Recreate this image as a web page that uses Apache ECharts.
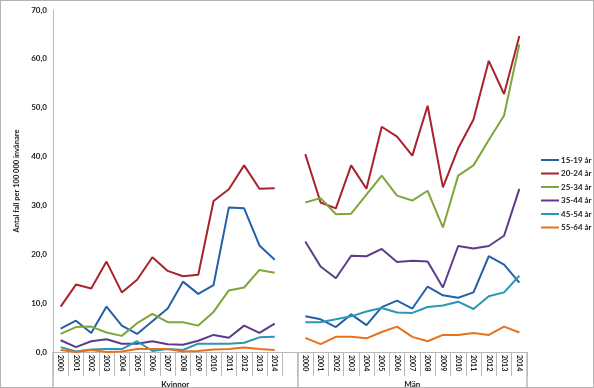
<!DOCTYPE html>
<html><head><meta charset="utf-8">
<script src="https://cdn.jsdelivr.net/npm/echarts@6/dist/echarts.min.js"></script>
<style>
html,body{margin:0;padding:0;background:#fff;}
#c{position:absolute;left:0;top:0;width:594px;height:388px;}
#frame{position:absolute;left:0;top:0;width:594px;height:388px;box-sizing:border-box;border:1px solid #b4b4b4;pointer-events:none;}
</style></head>
<body><div id="c"></div><div id="frame"></div>
<script>
var years = ['2000','2001','2002','2003','2004','2005','2006','2007','2008','2009','2010','2011','2012','2013','2014'];
var groups = ['Kvinnor','Män'];
var seriesNames = ['15-19 år','20-24 år','25-34 år','35-44 år','45-54 år','55-64 år'];
var colors = ['#2560a8','#a8232a','#7fa63a','#5d3b8c','#2b97b4','#e8711e'];

var kvinnor_15_19 = [4.8,6.4,3.9,9.3,5.4,3.7,6.3,8.9,14.4,11.9,13.7,29.6,29.4,21.8,18.9];
var kvinnor_20_24 = [9.3,13.8,13.0,18.5,12.2,14.8,19.4,16.6,15.5,15.8,30.9,33.3,38.2,33.4,33.5];
var kvinnor_25_34 = [3.7,5.1,5.2,4.0,3.3,5.9,7.8,6.1,6.1,5.4,8.2,12.6,13.2,16.8,16.2];
var kvinnor_35_44 = [2.4,1.0,2.2,2.6,1.7,1.7,2.2,1.6,1.5,2.3,3.5,2.9,5.4,3.9,5.8];
var kvinnor_45_54 = [1.0,0.1,0.5,0.6,0.6,2.2,0.2,0.6,0.4,1.7,1.7,1.7,1.9,3.0,3.1];
var kvinnor_55_64 = [0.4,0.0,0.4,0.0,0.1,0.6,0.6,0.6,0.1,0.2,0.5,0.6,0.9,0.6,0.4];

var man_15_19 = [7.3,6.7,5.1,7.7,5.5,9.2,10.5,8.9,13.4,11.6,11.1,12.2,19.6,17.9,14.2];
var man_20_24 = [40.5,30.6,29.4,38.2,33.4,46.1,44.1,40.2,50.4,33.7,41.7,47.6,59.6,52.8,64.7];
var man_25_34 = [30.6,31.5,28.2,28.3,32.2,36.1,32.0,31.0,33.0,25.5,36.1,38.2,43.4,48.4,63.0];
var man_35_44 = [22.6,17.5,15.1,19.7,19.6,21.1,18.4,18.7,18.5,13.2,21.7,21.2,21.7,23.8,33.4];
var man_45_54 = [6.1,6.1,6.7,7.3,8.3,9.0,8.1,8.0,9.2,9.5,10.3,8.8,11.4,12.2,15.6];
var man_55_64 = [2.9,1.6,3.1,3.1,2.8,4.1,5.2,3.1,2.2,3.5,3.5,3.9,3.5,5.2,4.0];

var kvinnorAll = [kvinnor_15_19,kvinnor_20_24,kvinnor_25_34,kvinnor_35_44,kvinnor_45_54,kvinnor_55_64];
var manAll = [man_15_19,man_20_24,man_25_34,man_35_44,man_45_54,man_55_64];

var categories = years.concat(['']).concat(years);
var nK = years.length + 1; // Kvinnor block incl. blank slot
var nTotal = categories.length;

var FONT = 'Lato, "Open Sans", sans-serif';
var gray = '#b9b9b9';

var series = seriesNames.map(function(name, i){
  return {
    name: name, type: 'line', xAxisIndex: 0, yAxisIndex: 0,
    data: kvinnorAll[i].concat([null]).concat(manAll[i]),
    symbol: 'none', connectNulls: false, animation: false,
    lineStyle: {width: 2, color: colors[i]}, itemStyle: {color: colors[i]}
  };
});

var chart = echarts.init(document.getElementById('c'), null, {renderer: 'canvas'});
chart.setOption({
  animation: false,
  color: colors,
  grid: {left: 53, top: 10, right: 67, bottom: 36, containLabel: false},
  legend: {
    orient: 'vertical', left: 536, top: 151, itemGap: 5.5,
    itemWidth: 18, itemHeight: 9, icon: 'rect',
    data: seriesNames.map(function(n, i){ return {name: n, icon: 'path://M0,4 L18,4 L18,6 L0,6 Z'}; }),
    textStyle: {fontFamily: FONT, fontSize: 8, fontWeight: 'bold', color: '#222', padding: [0,0,0,-3]}
  },
  xAxis: [{
    type: 'category', data: categories, position: 'bottom', boundaryGap: true,
    axisLine: {show: true, lineStyle: {color: gray, width: 1}},
    axisTick: {show: true, interval: 0, length: 24, lineStyle: {color: gray}},
    axisLabel: {interval: 0, rotate: -90, margin: 3, fontFamily: FONT, fontSize: 7, fontWeight: 'bold', color: '#222'},
    splitLine: {show: false}
  }, {
    type: 'value', min: 0, max: nTotal, position: 'bottom',
    axisLine: {show: false},
    axisTick: {show: true, length: 40, customValues: [0, nK, nTotal], lineStyle: {color: gray, width: 1.5}},
    axisLabel: {show: true, customValues: [nK/2, nK + (nTotal - nK)/2], margin: 28,
      formatter: function(v){ return v < nK ? groups[0] : groups[1]; },
      fontFamily: FONT, fontSize: 8, fontWeight: 'bold', color: '#222'},
    splitLine: {show: false}
  }],
  yAxis: {
    type: 'value', min: 0, max: 70, interval: 10,
    name: 'Antal fall per 100 000 invånare', nameLocation: 'middle', nameGap: 30, nameRotate: 90,
    nameTextStyle: {fontFamily: FONT, fontSize: 7.5, fontWeight: 'bold', color: '#222'},
    axisLine: {show: true, lineStyle: {color: gray}},
    axisTick: {show: false},
    axisLabel: {margin: 6, fontFamily: FONT, fontSize: 8, fontWeight: 'bold', color: '#222',
      formatter: function(v){ return v.toFixed(1).replace('.', ','); }},
    splitLine: {show: false}
  },
  series: series
});
</script>
</body></html>
